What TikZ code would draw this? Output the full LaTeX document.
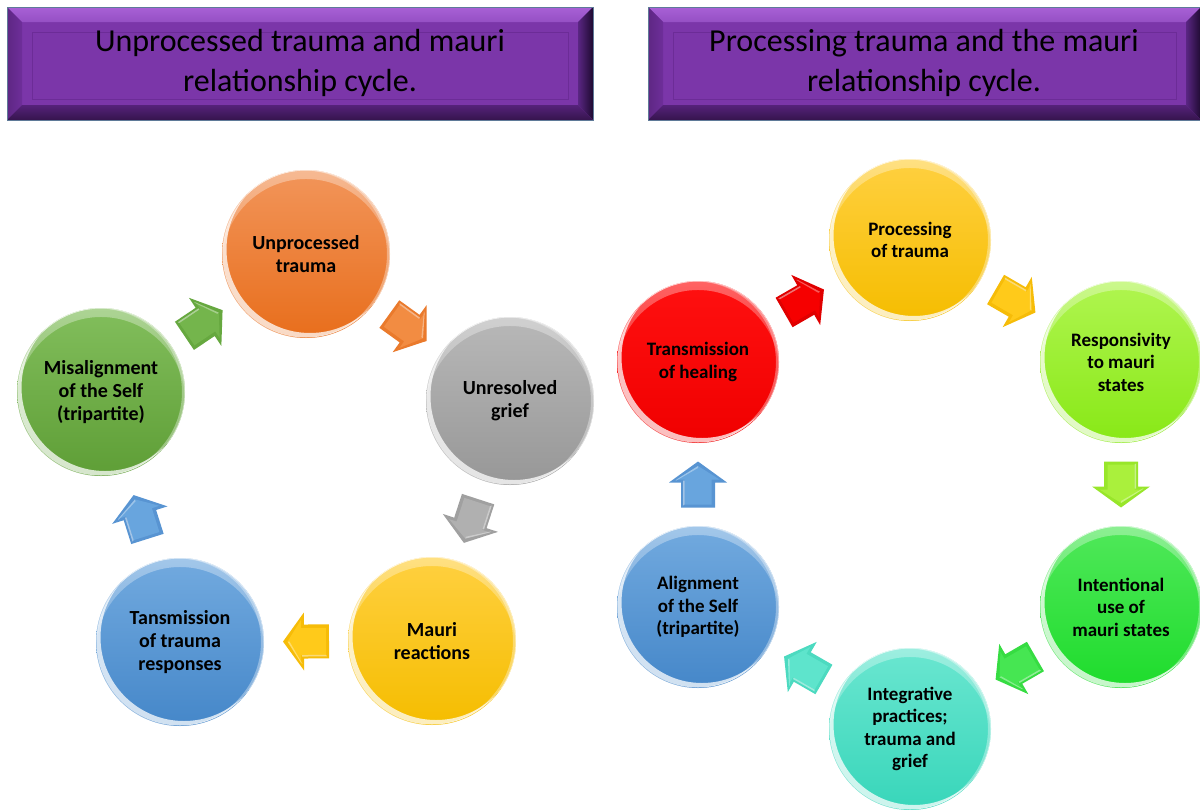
\documentclass[tikz,border=0pt]{standalone}
\usepackage{fontspec}
\setmainfont{Carlito}
\usetikzlibrary{calc,fadings}

% banner colours
\definecolor{bevface}{HTML}{7B36A9}
\definecolor{bevtopA}{HTML}{A860D6}
\definecolor{bevtopB}{HTML}{9550C4}
\definecolor{bevleft}{HTML}{6E2E9A}
\definecolor{bevrightA}{HTML}{5A2683}
\definecolor{bevrightB}{HTML}{1E0A30}
\definecolor{bevbottom}{HTML}{4C1D6E}
\definecolor{bevline}{HTML}{6C2C97}
\definecolor{bevborder}{HTML}{5F7A98}

% ball colours (top / bottom)
\definecolor{orgT}{HTML}{F2955A}\definecolor{orgB}{HTML}{E86E1C}
\definecolor{gryT}{HTML}{B8B8B8}\definecolor{gryB}{HTML}{979797}
\definecolor{ylwT}{HTML}{FFD040}\definecolor{ylwB}{HTML}{F5BD00}
\definecolor{bluT}{HTML}{72AADF}\definecolor{bluB}{HTML}{4587C9}
\definecolor{grnT}{HTML}{82BE5C}\definecolor{grnB}{HTML}{5E9E36}
\definecolor{redT}{HTML}{FF1010}\definecolor{redB}{HTML}{F00000}
\definecolor{limT}{HTML}{B0F550}\definecolor{limB}{HTML}{88E816}
\definecolor{emdT}{HTML}{50E85A}\definecolor{emdB}{HTML}{1EDC2C}
\definecolor{tealT}{HTML}{6AE6D0}\definecolor{tealB}{HTML}{38D6BA}

% arrow colours (face / edge)
\definecolor{aGrn}{HTML}{74B54C}\definecolor{eGrn}{HTML}{66A83F}
\definecolor{aOrg}{HTML}{F28C42}\definecolor{eOrg}{HTML}{EA7A2C}
\definecolor{aGry}{HTML}{B0B0B0}\definecolor{eGry}{HTML}{A0A0A0}
\definecolor{aYlw}{HTML}{FFCA1A}\definecolor{eYlw}{HTML}{F6BC08}
\definecolor{aBlu}{HTML}{68A5DE}\definecolor{eBlu}{HTML}{5894D2}
\definecolor{aRed}{HTML}{F60000}\definecolor{eRed}{HTML}{E00000}
\definecolor{aLim}{HTML}{AAF03C}\definecolor{eLim}{HTML}{98E62A}
\definecolor{aEmd}{HTML}{46E652}\definecolor{eEmd}{HTML}{36DC42}
\definecolor{aTeal}{HTML}{5EE4CC}\definecolor{eTeal}{HTML}{4CDAC0}

\tikzset{
  pics/purplebar/.style 2 args={code={
    \fill[bevface] (0,0) rectangle (#1,#2);
    \shade[top color=bevtopA, bottom color=bevtopB]
      (0,0) -- (#1,0) -- ({#1-15},15) -- (15,15) -- cycle;
    \shade[left color=bevleft!85!black, right color=bevleft]
      (0,0) -- (15,15) -- (15,{#2-15}) -- (0,#2) -- cycle;
    \shade[left color=bevrightA, right color=bevrightB]
      (#1,0) -- (#1,#2) -- ({#1-15},{#2-15}) -- ({#1-15},15) -- cycle;
    \shade[top color=bevbottom!80!bevface, bottom color=bevbottom!70!black]
      (0,#2) -- (#1,#2) -- ({#1-15},{#2-15}) -- (15,{#2-15}) -- cycle;
    \draw[bevline, line width=1pt] (25,25) rectangle ({#1-25},{#2-21});
    \draw[bevborder, line width=1pt] (0,0) rectangle (#1,#2);
  }},
  title/.style={align=center, text=black,
    font=\fontsize{32}{40}\selectfont},
  ball/.style n args={3}{circle, inner sep=0pt, minimum size={2*#3},
    top color=#1, bottom color=#2, align=center, text=black,
    path picture={
      % light band along the top edge
      \fill[white, opacity=.35, even odd rule, path fading=south]
        (path picture bounding box.center) circle [radius={#3}]
        ([shift={(0,9)}]path picture bounding box.center) circle [radius={#3}];
      % bright rim along the lower left edge
      \fill[white, opacity=.75, even odd rule]
        (path picture bounding box.center) circle [radius={#3-0.5}]
        ([shift={(4,-4.5)}]path picture bounding box.center) circle [radius={#3-0.5}];
      % faint rim on the right edge
      \fill[white, opacity=.35, even odd rule]
        (path picture bounding box.center) circle [radius={#3-0.5}]
        ([shift={(-2.5,0)}]path picture bounding box.center) circle [radius={#3-0.5}];
    }},
  lball/.style 2 args={ball={#1}{#2}{84},
    font=\bfseries\fontsize{20}{23}\selectfont},
  rball/.style 2 args={ball={#1}{#2}{81},
    font=\bfseries\fontsize{19}{22.5}\selectfont},
  pics/blockarrow/.style 2 args={code={
    \fill[#2] (-23,-17) -- (2,-17) -- (2,-29) -- (23,0) -- (2,29) -- (2,17)
      -- (-23,17) -- cycle;
    \fill[#1] (-20,-13.5) -- (5,-13.5) -- (5,-21.5) -- (18.5,0) -- (5,21.5)
      -- (5,13.5) -- (-20,13.5) -- cycle;
    \fill[white, opacity=.45] (-21,-15) -- (4,-15) -- (4,-13.5) -- (-20,-13.5) -- cycle;
    \fill[white, opacity=.35] (3.5,-22.5) -- (5,-21.5) -- (18.5,0) -- (16.5,0) -- cycle;
  }},
  link/.style={allow upside down, sloped, pos=.5}
}

\begin{document}
\begin{tikzpicture}[x=1pt, y=-1pt]
\useasboundingbox (0,0) rectangle (1200,809);
\fill[white] (0,0) rectangle (1200,809);

% ---- banners ----
\pic at (7,7) {purplebar={586}{113}};
\node[title] (hdL) at (300,63) {Unprocessed trauma and mauri\\relationship cycle.};
\pic at (648,7) {purplebar={553}{113}};
\node[title] (hdR) at (924,63) {Processing trauma and the mauri\\relationship cycle.};

% ---- unprocessed cycle ----
\node[lball={orgT}{orgB}] (unp) at (306,254) {Unprocessed\\trauma};
\node[lball={gryT}{gryB}] (grf) at (510,401) {Unresolved\\grief};
\node[lball={ylwT}{ylwB}] (mre) at (432,641) {Mauri\\reactions};
\node[lball={bluT}{bluB}] (tns) at (180,642) {Tansmission\\of trauma\\responses};
\node[lball={grnT}{grnB}] (mis) at (101,392) {Misalignment\\of the Self\\(tripartite)};

\path (mis) -- (unp) pic[link] {blockarrow={aGrn}{eGrn}};
\path (unp) -- (grf) pic[link] {blockarrow={aOrg}{eOrg}};
\path (grf) -- (mre) pic[link] {blockarrow={aGry}{eGry}};
\path (mre) -- (tns) pic[link] {blockarrow={aYlw}{eYlw}};
\path (tns) -- (mis) pic[link] {blockarrow={aBlu}{eBlu}};

% ---- processing cycle ----
\node[rball={redT}{redB}] (hea) at (698,362) {Transmission\\of healing};
\node[rball={ylwT}{ylwB}] (pro) at (910,240) {Processing\\of trauma};
\node[rball={limT}{limB}] (rsp) at (1121,362) {Responsivity\\to mauri\\states};
\node[rball={emdT}{emdB}] (int) at (1121,607) {Intentional\\use of\\mauri states};
\node[rball={tealT}{tealB}] (itg) at (910,729) {Integrative\\practices;\\trauma and\\grief};
\node[rball={bluT}{bluB}] (ali) at (698,607) {Alignment\\of the Self\\(tripartite)};

\path (hea) -- (pro) pic[link] {blockarrow={aRed}{eRed}};
\path (pro) -- (rsp) pic[link] {blockarrow={aYlw}{eYlw}};
\path (rsp) -- (int) pic[link] {blockarrow={aLim}{eLim}};
\path (int) -- (itg) pic[link] {blockarrow={aEmd}{eEmd}};
\path (itg) -- (ali) pic[link] {blockarrow={aTeal}{eTeal}};
\path (ali) -- (hea) pic[link] {blockarrow={aBlu}{eBlu}};
\end{tikzpicture}
\end{document}
